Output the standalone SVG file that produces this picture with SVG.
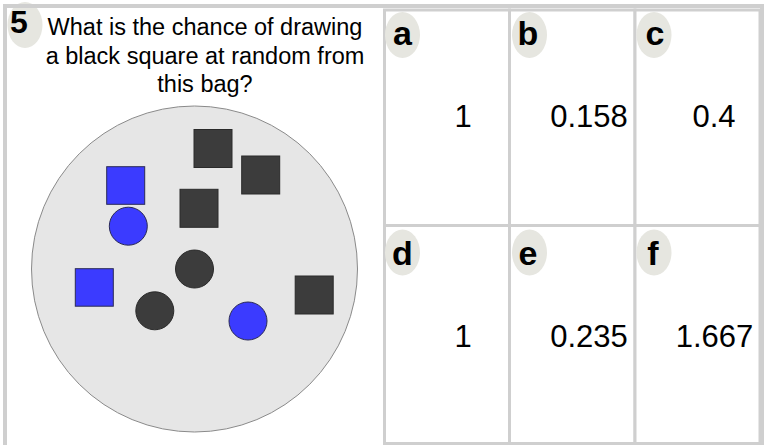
<svg xmlns="http://www.w3.org/2000/svg" width="769" height="445" viewBox="0 0 769 445">
<style>
.cell{fill:#ffffff;stroke:#cfcfcf;stroke-width:3}
.badge{fill:#e6e6e0}
.lbl{font-family:"Liberation Sans",Arial,sans-serif;font-weight:bold;font-size:34px;fill:#000;text-anchor:middle}
.num{font-family:"Liberation Sans",Arial,sans-serif;font-size:31px;fill:#000;text-anchor:middle}
.q{font-family:"Liberation Sans",Arial,sans-serif;font-size:23.5px;fill:#000;text-anchor:middle}
.blk{fill:#3c3c3c;stroke:#2a2a2a;stroke-width:1}
.blu{fill:#3b3bff;stroke:#2a2a55;stroke-width:1}
</style>
<rect x="0" y="0" width="769" height="445" fill="#ffffff"/>
<g id="question">
<ellipse class="badge" cx="25" cy="25" rx="17.5" ry="23"/>
<text x="19" y="33" font-family="Liberation Sans,Arial,sans-serif" font-weight="bold" font-size="32" text-anchor="middle">5</text>
<text class="q" x="205" y="35">What is the chance of drawing</text>
<text class="q" x="205" y="63.5">a black square at random from</text>
<text class="q" x="205" y="92">this bag?</text>
</g>
<g id="bag">
<circle cx="194.5" cy="269" r="163" fill="#e6e6e6" stroke="#8a8a8a" stroke-width="1"/>
<rect class="blk" x="194" y="129.5" width="38" height="38"/>
<rect class="blk" x="241.7" y="156" width="38" height="38"/>
<rect class="blu" x="106.7" y="166.7" width="38" height="37.6"/>
<rect class="blk" x="180" y="189.3" width="38" height="38"/>
<circle class="blu" cx="128.3" cy="226.2" r="19"/>
<circle class="blk" cx="194.5" cy="269" r="19"/>
<rect class="blu" x="75.3" y="268.7" width="38" height="37.5"/>
<circle class="blk" cx="154.8" cy="310.8" r="19"/>
<circle class="blu" cx="248" cy="321" r="19"/>
<rect class="blk" x="295.2" y="276" width="38" height="38"/>
</g>
<g id="frame">
<rect x="5" y="6" width="757" height="445" fill="none" stroke="#cfcfcf" stroke-width="4"/>
</g>
<g id="cell-a">
<rect class="cell" x="384.5" y="10" width="125" height="215.5"/>
<ellipse class="badge" cx="402.5" cy="35" rx="17.5" ry="23"/>
<text class="lbl" x="402.5" y="45">a</text>
<text class="num" x="463" y="127">1</text>
</g>
<g id="cell-b">
<rect class="cell" x="509.5" y="10" width="125.5" height="215.5"/>
<ellipse class="badge" cx="529.5" cy="35" rx="17.5" ry="23"/>
<text class="lbl" x="528" y="45">b</text>
<text class="num" x="589" y="127">0.158</text>
</g>
<g id="cell-c">
<rect class="cell" x="635" y="10" width="125" height="215.5"/>
<ellipse class="badge" cx="654" cy="35" rx="17.5" ry="23"/>
<text class="lbl" x="655" y="45">c</text>
<text class="num" x="714" y="127">0.4</text>
</g>
<g id="cell-d">
<rect class="cell" x="384.5" y="225.5" width="125" height="218"/>
<ellipse class="badge" cx="402.5" cy="252.5" rx="17.5" ry="23"/>
<text class="lbl" x="402.5" y="265">d</text>
<text class="num" x="463" y="347">1</text>
</g>
<g id="cell-e">
<rect class="cell" x="509.5" y="225.5" width="125.5" height="218"/>
<ellipse class="badge" cx="529.5" cy="252.5" rx="17.5" ry="23"/>
<text class="lbl" x="528" y="265">e</text>
<text class="num" x="589" y="347">0.235</text>
</g>
<g id="cell-f">
<rect class="cell" x="635" y="225.5" width="125" height="218"/>
<ellipse class="badge" cx="654" cy="252.5" rx="17.5" ry="23"/>
<text class="lbl" x="653" y="265">f</text>
<text class="num" x="714.5" y="347">1.667</text>
</g>
<g id="connectors"/>
</svg>
